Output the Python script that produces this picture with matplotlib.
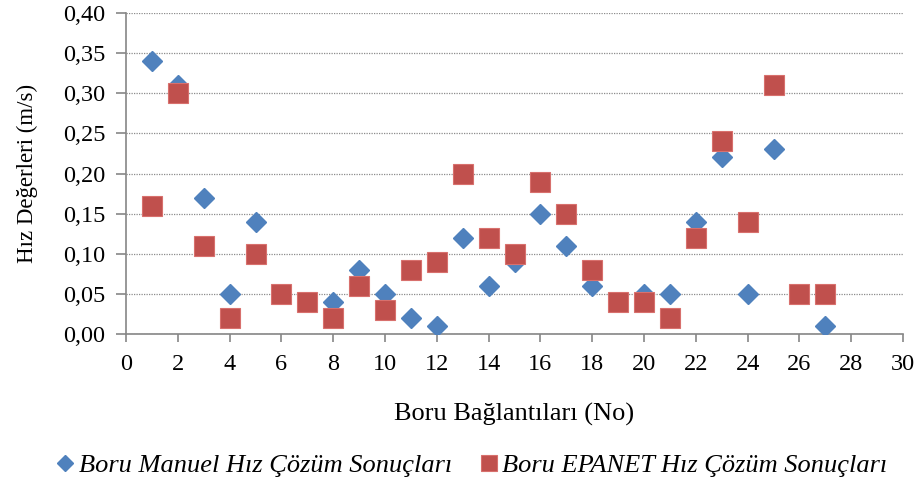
import matplotlib
matplotlib.use("Agg")

import matplotlib.pyplot as plt
from matplotlib.ticker import FuncFormatter, MultipleLocator

# Boru bağlantı numaraları ve hız değerleri (m/s)
boru_no = list(range(1, 28))
manuel_hiz = [0.34, 0.31, 0.17, 0.05, 0.14, 0.05, 0.04, 0.04, 0.08, 0.05,
              0.02, 0.01, 0.12, 0.06, 0.09, 0.15, 0.11, 0.06, 0.04, 0.05,
              0.05, 0.14, 0.22, 0.05, 0.23, 0.05, 0.01]
epanet_hiz = [0.16, 0.30, 0.11, 0.02, 0.10, 0.05, 0.04, 0.02, 0.06, 0.03,
              0.08, 0.09, 0.20, 0.12, 0.10, 0.19, 0.15, 0.08, 0.04, 0.04,
              0.02, 0.12, 0.24, 0.14, 0.31, 0.05, 0.05]

plt.rcParams["font.family"] = ["Liberation Serif", "DejaVu Serif"]

fig = plt.figure(figsize=(9.21, 4.95), dpi=100)
ax = fig.add_axes([126 / 921, 1 - 334 / 495, (903 - 126) / 921, (334 - 13) / 495])

ax.plot(boru_no, manuel_hiz, linestyle="none", marker="D", markersize=10.5,
        color="#4F81BD", markeredgecolor="#4F81BD",
        label="Boru Manuel Hız Çözüm Sonuçları", zorder=3)
ax.plot(boru_no, epanet_hiz, linestyle="none", marker="s", markersize=14,
        color="#C0504D", markeredgecolor="#D8706D", markeredgewidth=0.8,
        label="Boru EPANET Hız Çözüm Sonuçları", zorder=4)

ax.set_xlim(0, 30)
ax.set_ylim(0, 0.40)
ax.xaxis.set_major_locator(MultipleLocator(2))
ax.yaxis.set_major_locator(MultipleLocator(0.05))
ax.yaxis.set_major_formatter(FuncFormatter(lambda v, p: f"{v:.2f}".replace(".", ",")))

ax.grid(axis="y", color="#8C8C8C", linestyle=(0, (1, 1)), linewidth=0.9)
ax.set_axisbelow(True)

for s in ("top", "right"):
    ax.spines[s].set_visible(False)
for s in ("left", "bottom"):
    ax.spines[s].set_color("#868686")
    ax.spines[s].set_linewidth(1.2)
ax.tick_params(axis="both", colors="#868686", width=1.2,
               labelsize=17.5, labelcolor="black")
ax.tick_params(axis="y", length=7, pad=8)
ax.tick_params(axis="x", length=5.5, pad=9)

ax.set_ylabel("Hız Değerleri (m/s)", fontsize=16.5, labelpad=18)
ax.set_xlabel("Boru Bağlantıları (No)", fontsize=19, labelpad=20)

fig.legend(loc="lower center", bbox_to_anchor=(0.51, -0.012), ncol=2,
           frameon=False, prop={"size": 19, "style": "italic"},
           handletextpad=0.0, columnspacing=0.9, handlelength=1.0,
           markerscale=0.8)

fig.savefig("out.png", dpi=100)
plt.close(fig)
